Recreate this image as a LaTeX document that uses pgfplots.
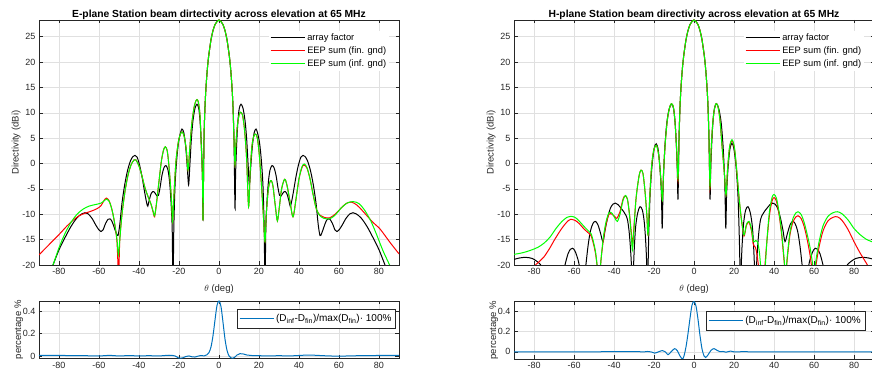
\documentclass[border=0pt]{standalone}
\usepackage{fontspec}
\setmainfont{Liberation Sans}
\usepackage{pgfplots}
\pgfplotsset{compat=1.18}
\definecolor{mblue}{rgb}{0,0.447,0.741}
\definecolor{axgray}{rgb}{0.15,0.15,0.15}
\pgfplotsset{
  matax/.style={
    scale only axis, width=360pt,
    xmin=-90, xmax=90, xtick={-80,-60,-40,-20,0,20,40,60,80},
    grid=major, major grid style={draw=black!12, line width=0.5pt},
    tick align=inside, major tick length=3.5pt,
    axis line style={draw=axgray, line width=0.5pt},
    every tick/.style={draw=axgray, line width=0.5pt},
    tick label style={font=\fontsize{9}{10}\selectfont, text=axgray},
    label style={font=\fontsize{9.5}{11}\selectfont, text=axgray},
    /pgf/number format/assume math mode=true,
    clip=true,
  },
  topax/.style={matax, height=245pt, ymin=-20, ymax=28.3, ytick={-20,-15,-10,-5,0,5,10,15,20,25},
    xlabel={$\theta$ (deg)}, ylabel={Directivity (dBi)},
    xlabel style={yshift=-3pt}, ylabel style={yshift=-5pt},
    title style={font=\bfseries\fontsize{10.3}{12}\selectfont, yshift=-9pt},
    legend style={at={(0.638,0.957)}, anchor=north west, draw=none, fill=white, font=\fontsize{9.3}{11}\selectfont, row sep=0.6pt, inner sep=1pt},
    legend cell align=left,
  },
  botax/.style={matax, ytick={0,0.2,0.4}, ylabel={percentage \%},
    ylabel style={yshift=-7pt},
    yticklabel style={/pgf/number format/fixed},
    legend style={draw=axgray, line width=0.5pt, fill=white, font=\fontsize{10}{12}\selectfont, inner xsep=2pt, inner ysep=3pt},
    legend cell align=left,
  },
  afl/.style={black, line width=1pt, smooth, legend image code/.code={\draw[black, line width=1.2pt] (0pt,0pt) -- (34pt,0pt);}},
  finl/.style={red, line width=1pt, smooth, legend image code/.code={\draw[red, line width=1.2pt] (0pt,0pt) -- (34pt,0pt);}},
  infl/.style={green, line width=1pt, smooth, legend image code/.code={\draw[green, line width=1.4pt] (0pt,0pt) -- (34pt,0pt);}},
  pctl/.style={mblue, line width=1pt, smooth, legend image code/.code={\draw[mblue, line width=1.2pt] (0pt,0pt) -- (34pt,0pt);}},
}
\begin{document}
\begin{tikzpicture}
% ---------------- E-plane ----------------
\begin{axis}[topax, at={(39pt,109pt)}, anchor=south west,
  title={E-plane Station beam dirtectivity across elevation at 65 MHz}]
\addplot[afl] coordinates {
(-90,-30) (-87,-25) (-85,-22) (-83,-20) (-80,-17) (-77,-14.6) (-74,-12.4) (-71,-10.7) (-68.5,-9.9) (-67,-9.7) (-65.5,-9.9) (-63.5,-10.8) (-61.5,-12.2) (-60,-13.1) (-59,-13.4) (-58,-13.1) (-56.7,-11.8) (-55.5,-11.0) (-54.5,-10.9) (-53.5,-11.4) (-52.3,-12.7) (-51.3,-13.8) (-50.5,-14.2) (-49.6,-12) (-48.5,-7.8) (-47.2,-4.3) (-45.8,-1.5) (-44.3,0.5) (-43,1.4) (-42,1.6) (-41,1.3) (-39.7,-0.3) (-38.4,-2.8) (-37.2,-5.6) (-36.2,-7.7) (-35.6,-8.4) (-35,-7.4) (-34,-6) (-33,-5.5) (-32,-5.8) (-31,-6.4) (-30.3,-6.3) (-29.5,-4.8) (-28.5,-2.3) (-27.5,-0.8) (-26.5,-0.4) (-25.5,-1.3) (-24.7,-3.6) (-24,-7.5) (-23.4,-13) (-23,-25) (-22.6,-13) (-22,-4.5) (-21.2,0.5) (-20.3,4) (-19.3,6) (-18.5,6.8) (-17.6,6.1) (-16.7,3.5) (-15.9,-0.5) (-15.2,-4.2) (-14.6,-0.5) (-13.8,5) (-13,8.5) (-12,10.9) (-11,11.7) (-10.1,10.8) (-9.4,8) (-8.8,3.5) (-8.3,-2) (-8,-11)
(-7.5,4.7) (-7,11.2) (-6.5,15.0) (-6,17.8) (-5.5,20.0) (-5,21.7) (-4,24.4) (-3,26.2) (-2,27.4) (-1,28.0) (0,28.3) (1,28.0) (2,27.4) (3,26.2) (4,24.4) (5,21.7) (5.5,20.0) (6,17.8) (6.5,15.0) (7,11.2) (7.5,4.7)
(8,-8.8) (8.3,-2) (8.8,3.5) (9.4,8) (10.1,10.8) (11,11.7) (12,10.9) (13,8.5) (13.8,5) (14.6,-0.5) (15.2,-4.2) (15.9,-0.5) (16.7,3.5) (17.6,6.1) (18.5,6.8) (19.3,6) (20.3,4) (21.2,0.5) (22,-4.5) (22.6,-13) (23,-25) (23.4,-13) (24,-7.5) (24.7,-3.6) (25.5,-1.3) (26.5,-0.4) (27.5,-0.8) (28.5,-2.3) (29.5,-4.8) (30.3,-6.3) (31,-6.4) (32,-5.8) (33,-5.5) (34,-6) (35,-7.4) (35.6,-8.4) (36.2,-7.7) (37.2,-5.6) (38.4,-2.8) (39.7,-0.3) (41,1.3) (42,1.6) (43,1.4) (44.3,0.5) (45.8,-1.5) (47.2,-4.3) (48.5,-7.8) (49.6,-12) (50.5,-14.2) (51.3,-13.8) (52.3,-12.7) (53.5,-11.4) (54.5,-10.9) (55.5,-11.0) (56.7,-11.8) (58,-13.1) (59,-13.4) (60,-13.1) (61.5,-12.2) (63.5,-10.8) (65.5,-9.9) (67,-9.7) (68.5,-9.9) (71,-10.7) (74,-12.4) (77,-14.6) (80,-17) (83,-20) (85,-22) (87,-25) (90,-30)
};
\addlegendentry{array factor}
\addplot[finl] coordinates {
(-90,-18.0) (-85,-16.0) (-80,-14.0) (-76,-12.3) (-73,-11.2) (-70,-10.3) (-67,-9.8) (-64,-9.4) (-61,-8.9) (-59,-8.3) (-57.5,-7.3) (-56.3,-6.8) (-55,-7.3) (-54,-8.4) (-53,-10.0) (-52,-12.3) (-51,-15.5) (-50.2,-22) (-49.6,-15) (-48.5,-10) (-47,-5.5) (-45.5,-2.3) (-44,-0.3) (-42.5,0.7) (-41.5,0.7) (-40,-0.5) (-38.5,-2.5) (-37,-4.8) (-35.5,-6.5) (-34,-8.0) (-32.8,-9.8) (-32.2,-10.5) (-31.3,-8) (-30,-3.5) (-28.8,0.5) (-27.7,2.7) (-26.8,3.3) (-25.8,2.3) (-24.8,-1.5) (-23.8,-7) (-23.2,-11.5) (-22.5,-6) (-21.5,0.5) (-20.3,4.3) (-19.2,5.9) (-18.3,6.2) (-17.3,5.2) (-16.3,2.5) (-15.5,-1.3) (-14.7,2.5) (-13.7,7.5) (-12.5,11) (-11.5,12.4) (-11,12.6) (-10.3,12.1) (-9.5,9.5) (-8.8,3) (-8.2,-4) (-8,-11.1)
(-7.5,4.7) (-7,11.2) (-6.5,15.0) (-6,17.8) (-5.5,20.0) (-5,21.7) (-4,24.4) (-3,26.2) (-2,27.4) (-1,28.0) (0,28.3) (1,28.0) (2,27.4) (3,26.2) (4,24.4) (5,21.7) (5.5,20.0) (6,17.8) (6.5,15.0) (7,11.2) (7.5,4.7)
(8,-0.3) (8.4,3.5) (9.2,7.5) (10,9.5) (10.8,10.1) (11.8,9.5) (12.8,6.5) (13.8,1) (14.8,-8.5) (15.6,-1.5) (16.5,3.5) (17.5,5.5) (18.3,5.8) (19.2,5) (20.2,1.5) (21.2,-4) (22.3,-11) (23,-15.4) (23.7,-9.5) (24.7,-5) (25.5,-3.6) (26.2,-3.4) (27,-4.5) (28.2,-8.5) (29.2,-11.3) (30.2,-8.5) (31.3,-5) (32.8,-3.1) (34,-4.3) (35.5,-7.5) (37,-10.5) (38.5,-7) (40,-3) (41.5,-0.8) (42.5,-0.3) (44,-0.9) (45.5,-3) (47,-6) (48.7,-9.0) (50.5,-10.2) (52.5,-10.6) (55.3,-10.7) (58,-10.0) (61,-8.8) (63.5,-7.9) (66.2,-7.6) (69,-8.2) (71.5,-9.2) (74,-10.3) (77,-11.6) (80.3,-12.8) (83,-14.2) (86,-15.8) (90,-17.8)
};
\addlegendentry{EEP sum (fin. gnd)}
\addplot[infl] coordinates {
(-90,-28) (-86,-23) (-83,-20) (-80,-16.6) (-77,-13.8) (-74,-11.6) (-71,-10.0) (-68,-9.0) (-65,-8.4) (-62,-8.1) (-59,-7.8) (-57,-7.2) (-56,-7.0) (-55,-7.4) (-54,-8.4) (-53,-10.0) (-52,-12.2) (-51,-15) (-50.3,-18) (-49.6,-15) (-48.5,-10) (-47,-5.5) (-45.5,-2.3) (-44,-0.3) (-42.5,0.7) (-41.5,0.7) (-40,-0.5) (-38.5,-2.5) (-37,-4.8) (-35.5,-6.5) (-34,-8.0) (-32.8,-9.6) (-32.2,-10.3) (-31.3,-8) (-30,-3.5) (-28.8,0.5) (-27.7,2.7) (-26.8,3.3) (-25.8,2.3) (-24.8,-1.5) (-23.8,-7) (-23.2,-11.5) (-22.5,-6) (-21.5,0.5) (-20.3,4.3) (-19.2,5.9) (-18.3,6.2) (-17.3,5.2) (-16.3,2.5) (-15.5,-1.3) (-14.7,2.5) (-13.7,7.5) (-12.5,11) (-11.5,12.4) (-11,12.6) (-10.3,12.1) (-9.5,9.5) (-8.8,3) (-8.2,-4) (-8,-11.1)
(-7.5,4.7) (-7,11.2) (-6.5,15.0) (-6,17.8) (-5.5,20.0) (-5,21.7) (-4,24.4) (-3,26.2) (-2,27.4) (-1,28.0) (0,28.3) (1,28.0) (2,27.4) (3,26.2) (4,24.4) (5,21.7) (5.5,20.0) (6,17.8) (6.5,15.0) (7,11.2) (7.5,4.7)
(8,-0.3) (8.4,3.5) (9.2,7.5) (10,9.5) (10.8,10.1) (11.8,9.5) (12.8,6.5) (13.8,1) (14.8,-8.5) (15.6,-1.5) (16.5,3.5) (17.5,5.5) (18.3,5.8) (19.2,5) (20.2,1.5) (21.2,-4) (22.3,-11) (23,-15.4) (23.7,-9.5) (24.7,-5) (25.5,-3.6) (26.2,-3.4) (27,-4.5) (28.2,-8.5) (29.2,-11.3) (30.2,-8.5) (31.3,-5) (32.8,-3.1) (34,-4.3) (35.5,-7.5) (37,-10.5) (38.5,-7) (40,-3) (41.5,-0.6) (42.7,-0.1) (44,-0.8) (45.5,-3) (47,-6) (48.7,-9.0) (50.5,-10.3) (52.5,-10.8) (55.3,-10.9) (58,-10.2) (61,-8.8) (64,-7.8) (67,-7.5) (70,-7.9) (73,-9.3) (76,-11.4) (79,-14.2) (82,-17.2) (85.3,-20) (88,-22.5) (90,-24.5)
};
\addlegendentry{EEP sum (inf. gnd)}
\end{axis}
\begin{axis}[botax, at={(39pt,15.5pt)}, anchor=south west, height=57.5pt, ymin=-0.023, ymax=0.49,
  legend style={at={(0.991,0.861)}, anchor=north east}]
\addplot[pctl] coordinates {
(-90,0.005) (-80,0.004) (-70,0.003) (-60,0.0) (-55,0.005) (-50,0.0) (-45,0.003) (-40,0.0) (-35,0.002) (-30,0.0) (-25,0.006) (-22,0.0) (-20,-0.02) (-18,-0.016) (-16.5,-0.005) (-15,0.0) (-13.5,-0.008) (-12,-0.01) (-10.5,-0.002) (-9,0.004) (-7.5,0.0) (-6,0.01) (-5,0.03) (-4,0.08) (-3,0.18) (-2,0.32) (-1,0.45) (0,0.49) (1,0.44) (2,0.3) (3,0.15) (4,0.05) (5,0.0) (6,-0.018) (7,-0.02) (8,-0.01) (9,0.008) (10.5,0.02) (12,0.018) (14,0.008) (16,0.004) (20,0.002) (25,0.0) (30,0.002) (35,0.0) (40,0.004) (45,0.008) (50,0.004) (55,0.0) (60,-0.002) (65,0.0) (70,0.002) (80,0.004) (90,0.005)
};
\addlegendentry{(D\textsubscript{inf}-D\textsubscript{fin})/max(D\textsubscript{fin})· 100\%}
\end{axis}
% ---------------- H-plane ----------------
\begin{axis}[topax, at={(514pt,109pt)}, anchor=south west,
  title={H-plane Station beam directivity across elevation at 65 MHz}]
\addplot[afl] coordinates {
(-90,-18.9) (-87,-18.6) (-84,-18.5) (-81,-18.7) (-78.5,-19.3) (-76,-20.3) (-73,-23) (-69.5,-30) (-66,-23) (-64.5,-20) (-63,-17.8) (-61.8,-16.9) (-60.8,-16.7) (-59.7,-17.1) (-58.5,-18.3) (-57.3,-20.3) (-55.8,-26) (-54.2,-20.5) (-53,-16.3) (-51.8,-13.3) (-50.5,-11.8) (-49.3,-11.4) (-48,-12.1) (-46.7,-13.8) (-45.5,-15.4) (-44.5,-13.2) (-43.2,-10.7) (-41.8,-8.8) (-40.5,-8.0) (-39.3,-7.8) (-38,-8.1) (-36.7,-8.7) (-35.3,-9.4) (-34.2,-10.1) (-33.3,-11) (-32.5,-13.2) (-31.8,-16.5) (-31.2,-21) (-30.7,-30) (-30.2,-20) (-29.3,-13) (-28.2,-9.8) (-27,-8.5) (-25.8,-9.2) (-24.8,-11.8) (-24,-16.5) (-23.5,-22) (-23.3,-30) (-22.8,-17) (-22,-6.5) (-21,-0.5) (-19.9,3) (-18.9,3.9) (-17.9,2.7) (-17,-1) (-16.3,-6) (-15.9,-12.8) (-15.4,-4) (-14.6,3) (-13.6,8) (-12.4,10.8) (-11.2,11.7) (-10.2,10.8) (-9.4,7.8) (-8.7,2.5) (-8.3,-2) (-8,-7)
(-7.5,4.7) (-7,11.2) (-6.5,15.0) (-6,17.8) (-5.5,20.0) (-5,21.7) (-4,24.4) (-3,26.2) (-2,27.4) (-1,28.0) (0,28.3) (1,28.0) (2,27.4) (3,26.2) (4,24.4) (5,21.7) (5.5,20.0) (6,17.8) (6.5,15.0) (7,11.2) (7.5,4.7)
(8,-7) (8.3,-2) (8.7,2.5) (9.4,7.8) (10.2,10.8) (11.2,11.8) (12.4,10.8) (13.6,8) (14.6,3) (15.4,-4) (15.9,-12.8) (16.3,-6) (17,-1) (17.9,2.7) (18.9,4.0) (19.9,3) (21,-0.5) (22,-6.5) (22.8,-17) (23.3,-30) (23.5,-22) (24,-16.5) (24.8,-11.8) (25.8,-9.2) (27,-8.5) (28.2,-9.8) (29.3,-13) (30.2,-20) (30.7,-30) (31.2,-21) (31.8,-16.5) (32.5,-13.2) (33.3,-11) (34.2,-10.1) (35.3,-9.4) (36.7,-8.7) (38,-8.1) (39.3,-7.8) (40.5,-8.0) (41.8,-8.8) (43.2,-10.7) (44.5,-13.2) (45.5,-15.4) (46.7,-13.8) (48,-12.1) (49.3,-11.4) (50.5,-11.8) (51.8,-13.3) (53,-16.3) (54.2,-20.5) (55.8,-26) (57.3,-20.3) (58.5,-18.3) (59.7,-17.1) (60.8,-16.7) (61.8,-16.9) (63,-17.8) (64.5,-20) (66,-23) (69.5,-30) (73,-23) (76,-20.3) (78.5,-19.3) (81,-18.7) (84,-18.5) (87,-18.6) (90,-18.9)
};
\addlegendentry{array factor}
\addplot[finl] coordinates {
(-90,-25) (-85,-23) (-80,-20.3) (-77,-19.2) (-75,-18.4) (-72,-16.6) (-70,-15.2) (-67,-13.3) (-65,-12.2) (-63,-11.3) (-61.7,-11.0) (-59.5,-11.2) (-57.5,-11.8) (-55,-12.9) (-53,-13.6) (-51.5,-14.2) (-50.3,-15.8) (-49.2,-17.8) (-48.2,-21) (-47.5,-24) (-46.5,-19) (-45.3,-15) (-44,-12) (-42.5,-10) (-41,-10.0) (-39.5,-10.5) (-38.6,-10.8) (-37,-9.5) (-35.5,-7) (-34.5,-6.4) (-33.3,-7.0) (-32.3,-9.8) (-31.3,-13.8) (-30.8,-16.2) (-30.2,-13.5) (-29,-7) (-27.5,-2.5) (-26.5,-1.3) (-25.5,-2) (-24.5,-5.5) (-23.6,-10) (-23,-14.1) (-22.3,-8) (-21.3,-1) (-20.2,2.5) (-18.8,3.6) (-17.6,1.5) (-16.7,-2.5) (-15.8,-7.2) (-15.2,-1.5) (-14.3,4.5) (-13.2,9) (-12,11.3) (-11.2,11.8) (-10.3,11.1) (-9.5,8.2) (-8.7,3) (-8,-3.4)
(-7.5,4.7) (-7,11.2) (-6.5,15.0) (-6,17.8) (-5.5,20.0) (-5,21.7) (-4,24.4) (-3,26.2) (-2,27.4) (-1,28.0) (0,28.3) (1,28.0) (2,27.4) (3,26.2) (4,24.4) (5,21.7) (5.5,20.0) (6,17.8) (6.5,15.0) (7,11.2) (7.5,4.7)
(8,-4.9) (8.5,2) (9.2,7) (10,10.3) (11,11.8) (12,11.2) (13,8.5) (14,3.5) (15.2,-2) (16,-6.2) (16.8,-1) (17.8,3.2) (19,4.5) (20.2,3) (21.3,-1.2) (22.5,-6.7) (23.7,-11) (25,-14.3) (26.2,-12.2) (27.5,-11.6) (28.7,-13.2) (29.7,-16) (30.7,-16.5) (31.5,-18) (32.5,-21) (33.5,-25) (35,-22) (36.3,-16) (37.7,-10.3) (39,-7.4) (40,-6.7) (41.2,-7.4) (42.5,-10) (43.8,-14) (45,-19) (45.8,-22) (46.7,-18.5) (48,-14) (49.5,-11.5) (51,-10.5) (52,-10.3) (53.5,-10.8) (55,-12.3) (56.5,-14.8) (58,-18) (59.2,-21.5) (60,-23) (61,-20) (62.5,-16.5) (64.5,-13.3) (67,-11.3) (69.5,-10.6) (71.7,-10.5) (74,-11.2) (77,-13.0) (80,-15.4) (83,-17.6) (86.7,-20) (90,-22.5)
};
\addlegendentry{EEP sum (fin. gnd)}
\addplot[infl] coordinates {
(-90,-17.9) (-87,-17.7) (-84,-17.4) (-81,-17.0) (-78,-16.5) (-75,-15.7) (-72,-14.5) (-69,-12.8) (-66,-11.4) (-63.5,-10.6) (-61.7,-10.4) (-59.5,-10.6) (-57.5,-11.3) (-55,-12.4) (-53,-13.2) (-51.5,-13.8) (-50.3,-15.4) (-49.2,-17.5) (-48.2,-21) (-47.5,-24) (-46.5,-19) (-45.3,-14.5) (-44,-11.5) (-42.5,-9.7) (-41,-9.8) (-39.5,-10.8) (-38.3,-11.4) (-37,-10) (-35.5,-7.3) (-34.3,-6.3) (-33.3,-7.0) (-32.3,-10) (-31.3,-14.5) (-30.8,-17) (-30.2,-14) (-29,-7) (-27.5,-2.5) (-26.5,-1.3) (-25.5,-2) (-24.5,-5.5) (-23.6,-10) (-23,-14.1) (-22.3,-8) (-21.3,-1) (-20.2,2.5) (-18.8,3.6) (-17.6,1.5) (-16.7,-2.5) (-15.8,-7.2) (-15.2,-1.5) (-14.3,4.5) (-13.2,9) (-12,11.3) (-11.2,11.8) (-10.3,11.1) (-9.5,8.2) (-8.7,3) (-8,-3.0)
(-7.5,4.7) (-7,11.2) (-6.5,15.0) (-6,17.8) (-5.5,20.0) (-5,21.7) (-4,24.4) (-3,26.2) (-2,27.4) (-1,28.0) (0,28.3) (1,28.0) (2,27.4) (3,26.2) (4,24.4) (5,21.7) (5.5,20.0) (6,17.8) (6.5,15.0) (7,11.2) (7.5,4.7)
(8,-4.5) (8.5,2) (9.2,7) (10,10.3) (11,11.8) (12,11.2) (13,8.5) (14,3.5) (15.2,-2) (16,-6.2) (16.8,-1) (17.8,3.3) (19,4.7) (20.2,3.2) (21.3,-1) (22.5,-6.5) (23.7,-11) (25,-14.1) (26.2,-12) (27.5,-11.4) (28.7,-12.8) (29.7,-15.4) (30.7,-15.2) (31.8,-15.5) (32.7,-17.5) (33.5,-21) (34.5,-25) (35.5,-21) (36.5,-15) (37.7,-9.5) (39,-6.7) (40,-6.1) (41.2,-6.8) (42.5,-9.5) (43.8,-13.5) (45,-18.5) (45.8,-22) (46.7,-18) (48,-13.5) (49.5,-10.8) (51,-9.7) (52,-9.5) (53.5,-10.0) (55,-11.5) (56.5,-13.8) (58,-16.5) (59.2,-19.5) (60,-22) (61,-19) (62.5,-15.5) (64.5,-12.3) (67,-10.4) (69.5,-9.7) (71.7,-9.5) (74,-9.9) (77,-11.1) (80,-12.8) (83,-14.0) (86,-14.9) (88.3,-15.3) (90,-15.6)
};
\addlegendentry{EEP sum (inf. gnd)}
\end{axis}
\begin{axis}[botax, at={(514pt,15pt)}, anchor=south west, height=58pt, ymin=-0.07, ymax=0.5,
  legend style={at={(0.975,0.828)}, anchor=north east}]
\addplot[pctl] coordinates {
(-90,0) (-60,0) (-40,0.002) (-30,0.003) (-25,0.0) (-23.3,0.004) (-21.5,0.0) (-19.7,-0.012) (-17.8,0.0) (-15.8,0.013) (-14.3,0.0) (-13,-0.028) (-11.5,0.0) (-9.7,0.032) (-8.3,0.01) (-7,-0.04) (-5.8,-0.07) (-5,-0.04) (-4,0.05) (-3,0.18) (-2,0.33) (-1,0.46) (0,0.495) (1,0.45) (2,0.32) (3,0.16) (4,0.03) (5,-0.04) (5.8,-0.055) (7,-0.03) (8.5,0.015) (10,0.032) (11.5,0.015) (13,0.002) (14.5,0.004) (16,-0.003) (18.3,0.008) (20,0.0) (25,0.002) (30,0.0) (40,0.001) (60,0.0) (90,0.0)
};
\addlegendentry{(D\textsubscript{inf}-D\textsubscript{fin})/max(D\textsubscript{fin})· 100\%}
\end{axis}
\pgfresetboundingbox
\path[use as bounding box] (0pt,0pt) rectangle (872pt,374pt);
\end{tikzpicture}
\end{document}
